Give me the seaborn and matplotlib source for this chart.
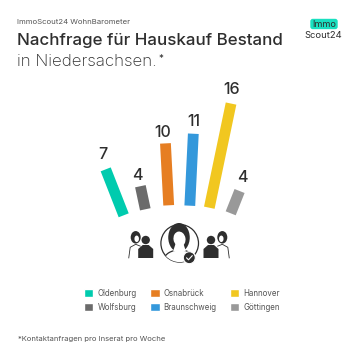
import numpy as np
import pandas as pd
import seaborn as sns
import matplotlib
matplotlib.use('Agg')
import matplotlib.pyplot as plt
from matplotlib.patches import Circle, Ellipse, Polygon, FancyBboxPatch
from matplotlib.transforms import Affine2D

# data
staedte = ['Oldenburg', 'Wolfsburg', 'Osnabrück', 'Braunschweig', 'Hannover', 'Göttingen']
anfragen = [7, 4, 10, 11, 16, 4]
farben = ['#00CBAE', '#6B6B6B', '#E67E22', '#3498DB', '#F1C720', '#999999']

# fan layout, in pixels of the 360x360 picture
winkel = [21.4, 12, 3, -2.8, -11.8, -21.7]
fuss_x = [123.7, 145.3, 168.7, 189.8, 209.3, 230.7]
fuss_y = [215.3, 209.3, 205.3, 205.7, 207.7, 213.3]
laenge_je_einheit = [7.05, 5.9, 6.2, 6.55, 6.65, 6.0]
label_x = [103.3, 137.7, 163, 193.7, 232, 242.7]
label_y = [154.3, 176, 132.3, 121.7, 90, 177]

DUNKEL = '#2E2E2E'
GRAU = '#555555'

sns.set_theme(style='white')
plt.rcParams['font.family'] = ['Inter', 'DejaVu Sans']

df = pd.DataFrame({'stadt': staedte, 'anfragen': anfragen})

fig = plt.figure(figsize=(3.6, 3.6), dpi=100)
ax = fig.add_axes([0, 0, 1, 1])
sns.barplot(data=df, x='stadt', y='anfragen', hue='stadt', palette=farben,
            hue_order=staedte, width=0.3, dodge=False, saturation=1, legend=True, ax=ax)

# pixel coordinates, y counted from the top
px = Affine2D().scale(1 / 360, -1 / 360).translate(0, 1) + ax.transAxes

for i, balken in enumerate(ax.containers):
    for patch in balken:
        t = (Affine2D().translate(-i, 0).scale(36, -laenge_je_einheit[i])
             .rotate_deg(-winkel[i]).translate(fuss_x[i], fuss_y[i]))
        patch.set_transform(t + px)
        patch.set_clip_on(False)
        patch.set_linewidth(0)

for i, wert in enumerate(anfragen):
    ax.text(label_x[i], label_y[i], str(wert), transform=px, ha='center', va='center',
            fontsize=11.5, color=DUNKEL, fontweight='medium')

sns.move_legend(ax, 'upper left', bbox_to_anchor=(81.6 / 360, 1 - 286.6 / 360), ncol=3, frameon=False,
                title=None, fontsize=5.7, handlelength=1.2, handleheight=1.2, handletextpad=0.5,
                columnspacing=1.7, labelspacing=0.62, labelcolor=GRAU, borderpad=0.3, borderaxespad=0)

ax.set_axis_off()

# header
ax.text(17, 23.5, 'ImmoScout24 WohnBarometer', transform=px, fontsize=5.6, color=GRAU, va='baseline')
ax.text(17, 45, 'Nachfrage für Hauskauf Bestand', transform=px, fontsize=12.2, color=DUNKEL,
        va='baseline', fontweight='medium')
ax.text(17, 66, 'in Niedersachsen.', transform=px, fontsize=12.2, color=DUNKEL, va='baseline', fontweight='light')
ax.text(160.5, 62, '*', transform=px, fontsize=7, color=DUNKEL, va='baseline', ha='center')
ax.text(18, 341.5, '*Kontaktanfragen pro Inserat pro Woche', transform=px, fontsize=5.5, color=GRAU, va='baseline')

# logo
ax.add_patch(FancyBboxPatch((311, 19.5), 26, 9, boxstyle='round,pad=0.7,rounding_size=2.5',
                            transform=px, fc='#19E0C0', ec='none'))
ax.text(324, 24.5, 'Immo', transform=px, fontsize=6.6, color=DUNKEL, ha='center', va='center')
ax.text(323.7, 35.7, 'Scout24', transform=px, fontsize=6.8, color=DUNKEL, ha='center', va='center')


# people icon
def person(x, y, haar=False, seite=1):
    if haar:
        ax.add_patch(Ellipse((x, y), 10, 12.5, transform=px, fc=DUNKEL, ec='none'))
        ax.add_patch(Ellipse((x + seite * 1, y + 1.5), 4.5, 6.5, transform=px, fc='white', ec='none'))
        ax.add_patch(Polygon([(x - seite * 7, y + 21), (x - seite * 5.5, y + 10), (x, y + 7), (x + seite * 5, y + 9)],
                             transform=px, fc='white', ec=DUNKEL, lw=0.6, closed=False))
    else:
        ax.add_patch(Circle((x, y), 4.2, transform=px, fc=DUNKEL, ec='none'))
        ax.add_patch(Polygon([(x - 7.5, y + 18), (x - 7.5, y + 9), (x - 3, y + 5), (x + 3, y + 5),
                              (x + 7.5, y + 9), (x + 7.5, y + 18)], transform=px, fc=DUNKEL, ec='none'))


person(135.7, 237.3, haar=True, seite=1)
person(145.7, 240)
person(222.3, 237.3, haar=True, seite=-1)
person(211, 240)

rand = Circle((179.7, 243.3), 18.8, transform=px, fc='white', ec=DUNKEL, lw=0.9)
ax.add_patch(rand)
ax.add_patch(Ellipse((179, 237.5), 21.5, 29, transform=px, fc=DUNKEL, ec='none'))
ax.add_patch(Ellipse((179.5, 239), 12, 15, angle=-10, transform=px, fc='white', ec='none'))
koerper = Ellipse((179.5, 260), 31, 20, transform=px, fc='white', ec=DUNKEL, lw=0.9)
ax.add_patch(koerper)
koerper.set_clip_path(rand)
ax.add_patch(Polygon([(175.5, 244), (183.5, 244), (186, 251.5), (173, 251.5)], transform=px, fc='white', ec='none'))
ax.add_patch(Circle((189.3, 257.7), 6, transform=px, fc=DUNKEL, ec='white', lw=0.8))
ax.plot([186.5, 188.5, 192.3], [257.8, 259.8, 255.6], transform=px, color='white', lw=0.8)

fig.savefig('out.png', dpi=100, facecolor='white')
